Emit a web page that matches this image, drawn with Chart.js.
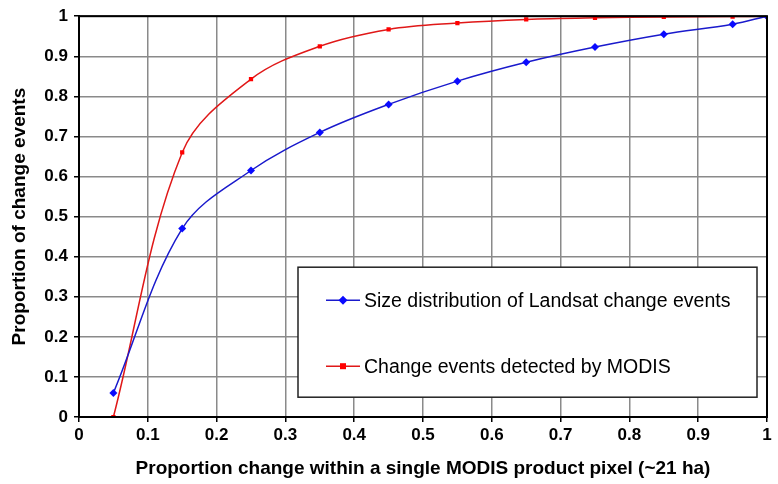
<!DOCTYPE html>
<html>
<head>
<meta charset="utf-8">
<script src="https://cdn.jsdelivr.net/npm/chart.js@4/dist/chart.umd.min.js"></script>
<style>
  html, body { margin: 0; padding: 0; background: #fff; }
  #wrap { width: 778px; height: 484px; }
</style>
</head>
<body>
<div id="wrap"><canvas id="cdf-chart" width="778" height="484"></canvas></div>
<script>
const X_VALUES = [0.05, 0.15, 0.25, 0.35, 0.45, 0.55, 0.65, 0.75, 0.85, 0.95, 1.0];
const LANDSAT_VALUES = [0.06, 0.47, 0.615, 0.71, 0.78, 0.838, 0.885, 0.923, 0.955, 0.98, 1.0];
const MODIS_VALUES = [0.0, 0.66, 0.843, 0.925, 0.967, 0.983, 0.992, 0.996, 0.998, 0.999, 1.0];
const SERIES_LABELS = ["Size distribution of Landsat change events", "Change events detected by MODIS"];
const X_TITLE = "Proportion change within a single MODIS product pixel (~21 ha)";
const Y_TITLE = "Proportion of change events";

const BLUE = "#1a1acc";
const RED = "#e01818";
const FONT = "'Liberation Sans', Arial, sans-serif";

function toPoints(values) {
  return X_VALUES.map((x, i) => ({ x: x, y: values[i] }));
}

// frame round the plot area plus the boxed legend sitting inside it
const framePlugin = {
  id: "frame",
  afterDatasetsDraw(chart) {
    const { ctx, chartArea } = chart;
    ctx.save();
    ctx.strokeStyle = "#000";
    ctx.lineWidth = 2;
    ctx.strokeRect(chartArea.left, chartArea.top, chartArea.right - chartArea.left, chartArea.bottom - chartArea.top);

    // legend box
    const bx = chartArea.left + 219;
    const by = chartArea.top + 251;
    const bw = 459;
    const bh = 130;
    ctx.fillStyle = "#fff";
    ctx.fillRect(bx, by, bw, bh);
    ctx.lineWidth = 1.5;
    ctx.strokeStyle = "#222";
    ctx.strokeRect(bx, by, bw, bh);

    chart.data.datasets.forEach((ds, i) => {
      const y = by + 33 + i * 66;
      ctx.strokeStyle = ds.borderColor;
      ctx.lineWidth = 1.5;
      ctx.beginPath();
      ctx.moveTo(bx + 28, y);
      ctx.lineTo(bx + 62, y);
      ctx.stroke();
      ctx.fillStyle = ds.backgroundColor;
      if (ds.pointStyle === "rectRot") {
        ctx.beginPath();
        ctx.moveTo(bx + 45, y - 4.5);
        ctx.lineTo(bx + 49.5, y);
        ctx.lineTo(bx + 45, y + 4.5);
        ctx.lineTo(bx + 40.5, y);
        ctx.closePath();
        ctx.fill();
      } else {
        ctx.fillRect(bx + 42, y - 3, 6, 6);
      }
      ctx.fillStyle = "#000";
      ctx.font = "19.5px " + FONT;
      ctx.textBaseline = "middle";
      ctx.textAlign = "left";
      ctx.fillText(ds.label, bx + 66, y + 1);
    });
    ctx.restore();
  },
};

const tickFont = { family: FONT, size: 17, weight: "bold" };
const titleFont = { family: FONT, size: 19, weight: "bold" };

new Chart(document.getElementById("cdf-chart"), {
  type: "scatter",
  data: {
    datasets: [
      {
        label: SERIES_LABELS[0],
        data: toPoints(LANDSAT_VALUES),
        showLine: true,
        borderColor: BLUE,
        backgroundColor: "#0a0aff",
        borderWidth: 1.5,
        pointStyle: "rectRot",
        pointRadius: 4,
        pointBorderWidth: 0,
        tension: 0.35,
      },
      {
        label: SERIES_LABELS[1],
        data: toPoints(MODIS_VALUES),
        showLine: true,
        borderColor: RED,
        backgroundColor: "#ff0000",
        borderWidth: 1.5,
        pointStyle: "rect",
        pointRadius: 3,
        pointBorderWidth: 0,
        tension: 0.35,
      },
    ],
  },
  options: {
    responsive: false,
    animation: false,
    layout: { padding: { top: 15, right: 11, left: 0, bottom: 0 } },
    scales: {
      x: {
        type: "linear",
        min: 0,
        max: 1,
        ticks: {
          stepSize: 0.1,
          color: "#000",
          font: tickFont,
          padding: 3,
          maxRotation: 0,
          callback: (v) => Number(v.toFixed(1)).toString(),
        },
        grid: { color: "#8a8a8a", lineWidth: 1.5, tickLength: 5, tickColor: "#000" },
        border: { display: true, color: "#000", width: 2 },
        title: { display: true, text: X_TITLE, color: "#000", font: titleFont, padding: { top: 8, bottom: 4 } },
        afterFit(scale) { scale.height = 67; },
      },
      y: {
        type: "linear",
        min: 0,
        max: 1,
        ticks: {
          stepSize: 0.1,
          color: "#000",
          font: tickFont,
          padding: 6,
          callback: (v) => Number(v.toFixed(1)).toString(),
        },
        grid: { color: "#8a8a8a", lineWidth: 1.5, tickLength: 5, tickColor: "#000" },
        border: { display: true, color: "#000", width: 2 },
        title: { display: true, text: Y_TITLE, color: "#000", font: titleFont, padding: { top: 8, bottom: 2 } },
        afterFit(scale) { scale.width = 79; },
      },
    },
    plugins: {
      legend: { display: false },
      tooltip: { enabled: false },
    },
  },
  plugins: [framePlugin],
});
</script>
</body>
</html>
